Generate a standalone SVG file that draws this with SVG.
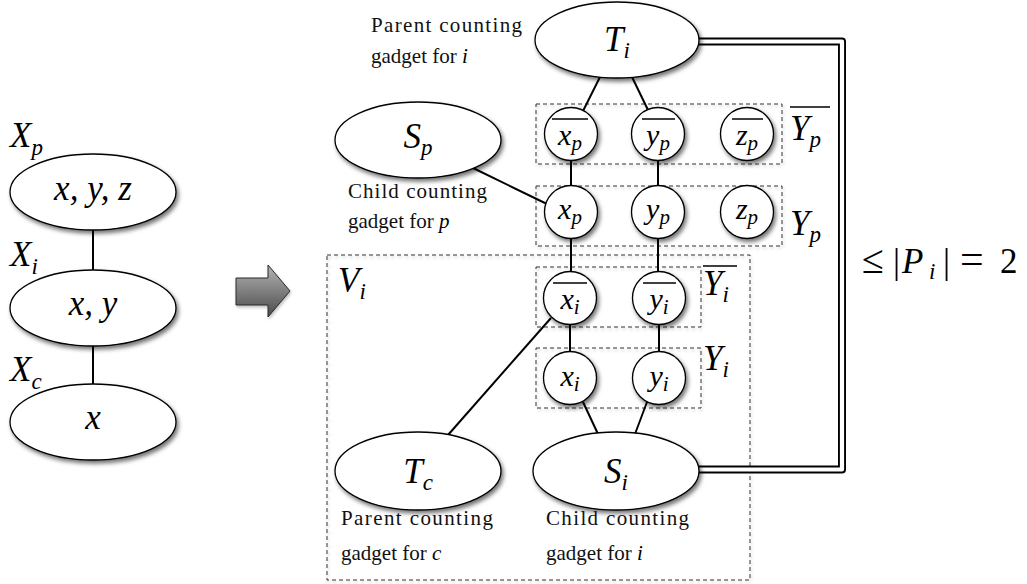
<svg xmlns="http://www.w3.org/2000/svg" width="1027" height="584" viewBox="0 0 1027 584" font-family="'Liberation Serif', serif">
<style>
.m{font-style:italic;fill:#000}
.r{font-style:normal;fill:#000}
.t{font-size:21px;fill:#111}
.big{font-size:35px}
.cir{font-size:30px}
.sub{font-size:23px}
.subs{font-size:21px}
.shape{fill:#fff;stroke:#000;stroke-width:1.3;filter:url(#sh)}
.edge{stroke:#000;stroke-width:2;fill:none}
.box{fill:none;stroke:#333;stroke-width:1;stroke-dasharray:4 3}
.bar{stroke:#000;stroke-width:1.5}
</style>
<defs>
<filter id="sh" x="-20%" y="-20%" width="150%" height="160%">
<feDropShadow dx="2" dy="3" stdDeviation="2.2" flood-color="#000" flood-opacity="0.55"/>
</filter>
<filter id="bsh" x="-5%" y="-5%" width="110%" height="115%">
<feDropShadow dx="1" dy="2" stdDeviation="1.5" flood-color="#000" flood-opacity="0.25"/>
</filter>
<linearGradient id="ag" x1="0" y1="0" x2="0" y2="1">
<stop offset="0" stop-color="#b4b4b4"/>
<stop offset="1" stop-color="#4a4a4a"/>
</linearGradient>
</defs>
<rect width="1027" height="584" fill="#fff"/>

<!-- dashed groupings -->
<g id="boxes" filter="url(#bsh)">
<rect class="box" x="327" y="255" width="423" height="325"/>
<rect class="box" x="536" y="104" width="246" height="60"/>
<rect class="box" x="536" y="186" width="246" height="60"/>
<rect class="box" x="536" y="267" width="165" height="60"/>
<rect class="box" x="536" y="348" width="165" height="60"/>
</g>

<!-- connectors -->
<g id="connectors">
<line class="edge" x1="93" y1="229" x2="93" y2="271"/>
<line class="edge" x1="93" y1="345" x2="93" y2="385"/>
<line class="edge" x1="600" y1="77" x2="583" y2="111"/>
<line class="edge" x1="632" y1="77" x2="648" y2="110"/>
<line class="edge" x1="571" y1="160" x2="571" y2="186"/>
<line class="edge" x1="658" y1="160" x2="658" y2="186"/>
<line class="edge" x1="473" y1="168" x2="547" y2="204"/>
<line class="edge" x1="571" y1="238" x2="571" y2="272"/>
<line class="edge" x1="658" y1="238" x2="658" y2="272"/>
<line class="edge" x1="570" y1="324" x2="570" y2="352"/>
<line class="edge" x1="659" y1="324" x2="659" y2="352"/>
<line class="edge" x1="551" y1="318" x2="448" y2="435"/>
<line class="edge" x1="583" y1="402" x2="598" y2="434"/>
<line class="edge" x1="647" y1="402" x2="635" y2="434"/>
<path d="M699 41.5 H842 V469.5 H699" fill="none" stroke="#000" stroke-width="8" stroke-linejoin="round" stroke-linecap="round"/>
<path d="M699 41.5 H842 V469.5 H699" fill="none" stroke="#fff" stroke-width="4.2" stroke-linejoin="round" stroke-linecap="round"/>
</g>

<!-- left tree decomposition -->
<g id="Xp">
<text font-family="'Liberation Serif', serif" class="m big" x="10" y="147">X<tspan class="sub" dy="8">p</tspan></text>
<ellipse class="shape" cx="93" cy="192" rx="83" ry="38"/>
<text font-family="'Liberation Serif', serif" class="m big" x="93" y="200" text-anchor="middle">x, y, z</text>
</g>
<g id="Xi">
<text font-family="'Liberation Serif', serif" class="m big" x="10" y="266">X<tspan class="sub" dy="8">i</tspan></text>
<ellipse class="shape" cx="93" cy="308" rx="83" ry="38"/>
<text font-family="'Liberation Serif', serif" class="m big" x="93" y="315" text-anchor="middle">x, y</text>
</g>
<g id="Xc">
<text font-family="'Liberation Serif', serif" class="m big" x="10" y="381">X<tspan class="sub" dy="8">c</tspan></text>
<ellipse class="shape" cx="93" cy="422" rx="83" ry="38"/>
<text font-family="'Liberation Serif', serif" class="m big" x="93" y="429" text-anchor="middle">x</text>
</g>

<!-- transformation arrow -->
<g id="arrow">
<polygon points="236,278 268,278 268,265 290,291 268,317 268,305 236,305" fill="url(#ag)" stroke="#2a2a2a" stroke-width="1" filter="url(#bsh)"/>
</g>

<!-- gadgets -->
<g id="Ti">
<ellipse class="shape" cx="617" cy="40" rx="82" ry="38"/>
<text font-family="'Liberation Serif', serif" class="m big" x="617" y="51" text-anchor="middle">T<tspan class="sub" dy="7">i</tspan></text>
<text font-family="'Liberation Serif', serif" class="t" x="371" y="32" textLength="151" lengthAdjust="spacing">Parent counting</text>
<text font-family="'Liberation Serif', serif" class="t" x="371" y="63">gadget for <tspan class="m">i</tspan></text>
</g>
<g id="Sp">
<ellipse class="shape" cx="418" cy="140" rx="83" ry="38"/>
<text font-family="'Liberation Serif', serif" class="m big" x="418" y="148" text-anchor="middle">S<tspan class="sub" dy="7">p</tspan></text>
<text font-family="'Liberation Serif', serif" class="t" x="348" y="198" textLength="139" lengthAdjust="spacing">Child counting</text>
<text font-family="'Liberation Serif', serif" class="t" x="348" y="228">gadget for <tspan class="m">p</tspan></text>
</g>
<g id="Tc">
<ellipse class="shape" cx="418" cy="471" rx="83" ry="39"/>
<text font-family="'Liberation Serif', serif" class="m big" x="418" y="483" text-anchor="middle">T<tspan class="sub" dy="7">c</tspan></text>
<text font-family="'Liberation Serif', serif" class="t" x="341" y="525" textLength="152" lengthAdjust="spacing">Parent counting</text>
<text font-family="'Liberation Serif', serif" class="t" x="341" y="560">gadget for <tspan class="m">c</tspan></text>
</g>
<g id="Si">
<ellipse class="shape" cx="616" cy="471" rx="83" ry="39"/>
<text font-family="'Liberation Serif', serif" class="m big" x="616" y="483" text-anchor="middle">S<tspan class="sub" dy="7">i</tspan></text>
<text font-family="'Liberation Serif', serif" class="t" x="546" y="525" textLength="143" lengthAdjust="spacing">Child counting</text>
<text font-family="'Liberation Serif', serif" class="t" x="546" y="560">gadget for <tspan class="m">i</tspan></text>
</g>

<!-- variable nodes -->
<g id="xp_bar">
<circle class="shape" cx="571" cy="134" r="26.5"/>
<line class="bar" x1="552" y1="119" x2="588" y2="119"/>
<text font-family="'Liberation Serif', serif" class="m cir" x="570" y="145" text-anchor="middle">x<tspan class="subs" dy="5">p</tspan></text>
</g>
<g id="yp_bar">
<circle class="shape" cx="658" cy="134" r="26.5"/>
<line class="bar" x1="642" y1="119" x2="675" y2="119"/>
<text font-family="'Liberation Serif', serif" class="m cir" x="658" y="145" text-anchor="middle">y<tspan class="subs" dy="5">p</tspan></text>
</g>
<g id="zp_bar">
<circle class="shape" cx="747" cy="134" r="26.5"/>
<line class="bar" x1="732" y1="119" x2="763" y2="119"/>
<text font-family="'Liberation Serif', serif" class="m cir" x="747" y="145" text-anchor="middle">z<tspan class="subs" dy="5">p</tspan></text>
</g>
<g id="xp">
<circle class="shape" cx="571" cy="212" r="26.5"/>
<text font-family="'Liberation Serif', serif" class="m cir" x="570" y="219" text-anchor="middle">x<tspan class="subs" dy="5">p</tspan></text>
</g>
<g id="yp">
<circle class="shape" cx="658" cy="212" r="26.5"/>
<text font-family="'Liberation Serif', serif" class="m cir" x="658" y="219" text-anchor="middle">y<tspan class="subs" dy="5">p</tspan></text>
</g>
<g id="zp">
<circle class="shape" cx="747" cy="212" r="26.5"/>
<text font-family="'Liberation Serif', serif" class="m cir" x="747" y="219" text-anchor="middle">z<tspan class="subs" dy="5">p</tspan></text>
</g>
<g id="xi_bar">
<circle class="shape" cx="570" cy="298" r="26.5"/>
<line class="bar" x1="553" y1="283" x2="587" y2="283"/>
<text font-family="'Liberation Serif', serif" class="m cir" x="570" y="309" text-anchor="middle">x<tspan class="subs" dy="5">i</tspan></text>
</g>
<g id="yi_bar">
<circle class="shape" cx="659" cy="298" r="26.5"/>
<line class="bar" x1="643" y1="283" x2="676" y2="283"/>
<text font-family="'Liberation Serif', serif" class="m cir" x="659" y="309" text-anchor="middle">y<tspan class="subs" dy="5">i</tspan></text>
</g>
<g id="xi">
<circle class="shape" cx="570" cy="378" r="26.5"/>
<text font-family="'Liberation Serif', serif" class="m cir" x="570" y="386" text-anchor="middle">x<tspan class="subs" dy="5">i</tspan></text>
</g>
<g id="yi">
<circle class="shape" cx="659" cy="378" r="26.5"/>
<text font-family="'Liberation Serif', serif" class="m cir" x="659" y="386" text-anchor="middle">y<tspan class="subs" dy="5">i</tspan></text>
</g>

<!-- group labels -->
<g id="labels">
<text font-family="'Liberation Serif', serif" class="m big" x="338" y="292">V<tspan class="sub" dy="7">i</tspan></text>
<line class="bar" x1="790" y1="107" x2="830" y2="107"/>
<text font-family="'Liberation Serif', serif" class="m big" x="790" y="140">Y<tspan class="sub" dy="7">p</tspan></text>
<text font-family="'Liberation Serif', serif" class="m big" x="790" y="235">Y<tspan class="sub" dy="7">p</tspan></text>
<line class="bar" x1="703" y1="266" x2="737" y2="266"/>
<text font-family="'Liberation Serif', serif" class="m big" x="703" y="295">Y<tspan class="sub" dy="7">i</tspan></text>
<text font-family="'Liberation Serif', serif" class="m big" x="703" y="370">Y<tspan class="sub" dy="7">i</tspan></text>
<text font-family="'Liberation Serif', serif" class="r big" x="862" y="273"><tspan font-size="40">≤</tspan><tspan x="893">|</tspan><tspan class="m" x="902">P</tspan><tspan class="m sub" x="929" dy="6">i</tspan><tspan x="943" dy="-6">|</tspan><tspan font-size="42" x="960">=</tspan><tspan x="1000">2</tspan></text>
</g>
</svg>
